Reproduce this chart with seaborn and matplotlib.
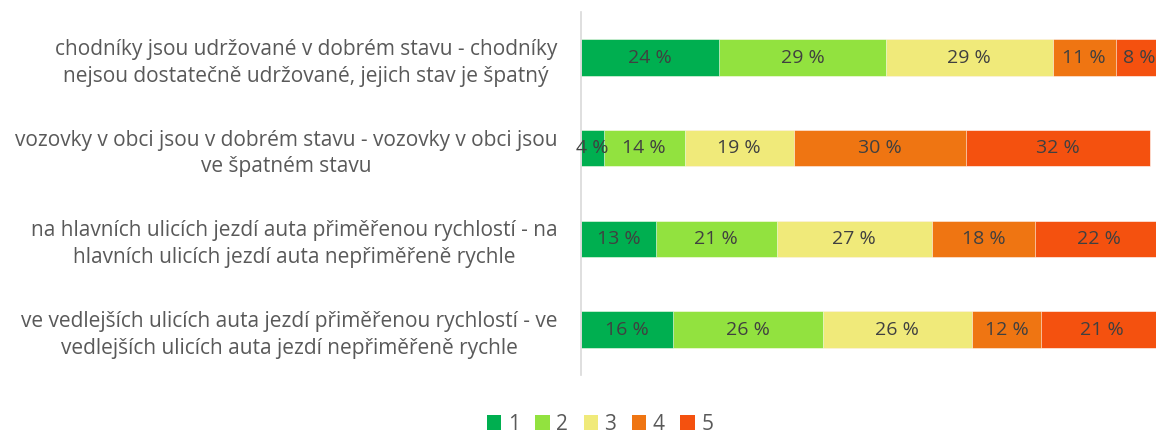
import numpy as np
import pandas as pd
import seaborn as sns
import matplotlib.pyplot as plt
from matplotlib.patches import Patch

# values (%)
categories = [
    "chodníky jsou udržované v dobrém stavu - chodníky\nnejsou dostatečně udržované, jejich stav je špatný",
    "vozovky v obci jsou v dobrém stavu - vozovky v obci jsou\nve špatném stavu",
    "na hlavních ulicích jezdí auta přiměřenou rychlostí - na\nhlavních ulicích jezdí auta nepřiměřeně rychle",
    "ve vedlejších ulicích auta jezdí přiměřenou rychlostí - ve\nvedlejších ulicích auta jezdí nepřiměřeně rychle",
]
levels = ["1", "2", "3", "4", "5"]
share_1 = [24, 4, 13, 16]
share_2 = [29, 14, 21, 26]
share_3 = [29, 19, 27, 26]
share_4 = [11, 30, 18, 12]
share_5 = [8, 32, 22, 21]
colors = ["#00AF50", "#92E23F", "#F0EA7A", "#EF7512", "#F4510F"]

shares = np.array([share_1, share_2, share_3, share_4, share_5])
cum = shares.cumsum(axis=0)

sns.set_style("white")
plt.rcParams['font.family'] = ['Open Sans', 'DejaVu Sans']
text_col = "#595959"

fig = plt.figure(figsize=(11.56, 4.34), dpi=100)
ax = fig.add_axes([0.5026, 0.136, 0.4974, 0.836])

# draw cumulative bars from the longest to the shortest so they stack visually
for i in range(len(levels) - 1, -1, -1):
    df = pd.DataFrame({"cat": categories, "val": cum[i]})
    sns.barplot(data=df, x="val", y="cat", orient="h", color=colors[i],
                width=0.4, saturation=1, edgecolor="white", linewidth=0.4, ax=ax)

# segment labels
for i in range(len(levels)):
    for j in range(len(categories)):
        center = cum[i][j] - shares[i][j] / 2
        ax.text(center, j, f"{shares[i][j]} %", ha="center", va="center",
                fontsize=14, color="#404040", clip_on=False)

ax.set_xlim(0, 100)
ax.set_ylim(3.5, -0.5)
ax.set_xlabel("")
ax.set_ylabel("")
ax.set_xticks([])
ax.tick_params(axis="y", length=0, pad=17)
for lab in ax.get_yticklabels():
    lab.set_multialignment("center")
    lab.set_fontsize(15)
    lab.set_linespacing(1.35)
    lab.set_color(text_col)
for s in ["top", "right", "bottom"]:
    ax.spines[s].set_visible(False)
ax.spines["left"].set_color("#D9D9D9")
ax.spines["left"].set_linewidth(1.2)

handles = [Patch(facecolor=c, edgecolor="none") for c in colors]
fig.legend(handles, levels, loc="lower center", bbox_to_anchor=(0.519, -0.045),
           ncol=5, frameon=False, fontsize=15, labelcolor=text_col,
           handlelength=0.7, handleheight=0.7, handletextpad=0.3, columnspacing=0.75)

fig.savefig("out.png", dpi=100)
